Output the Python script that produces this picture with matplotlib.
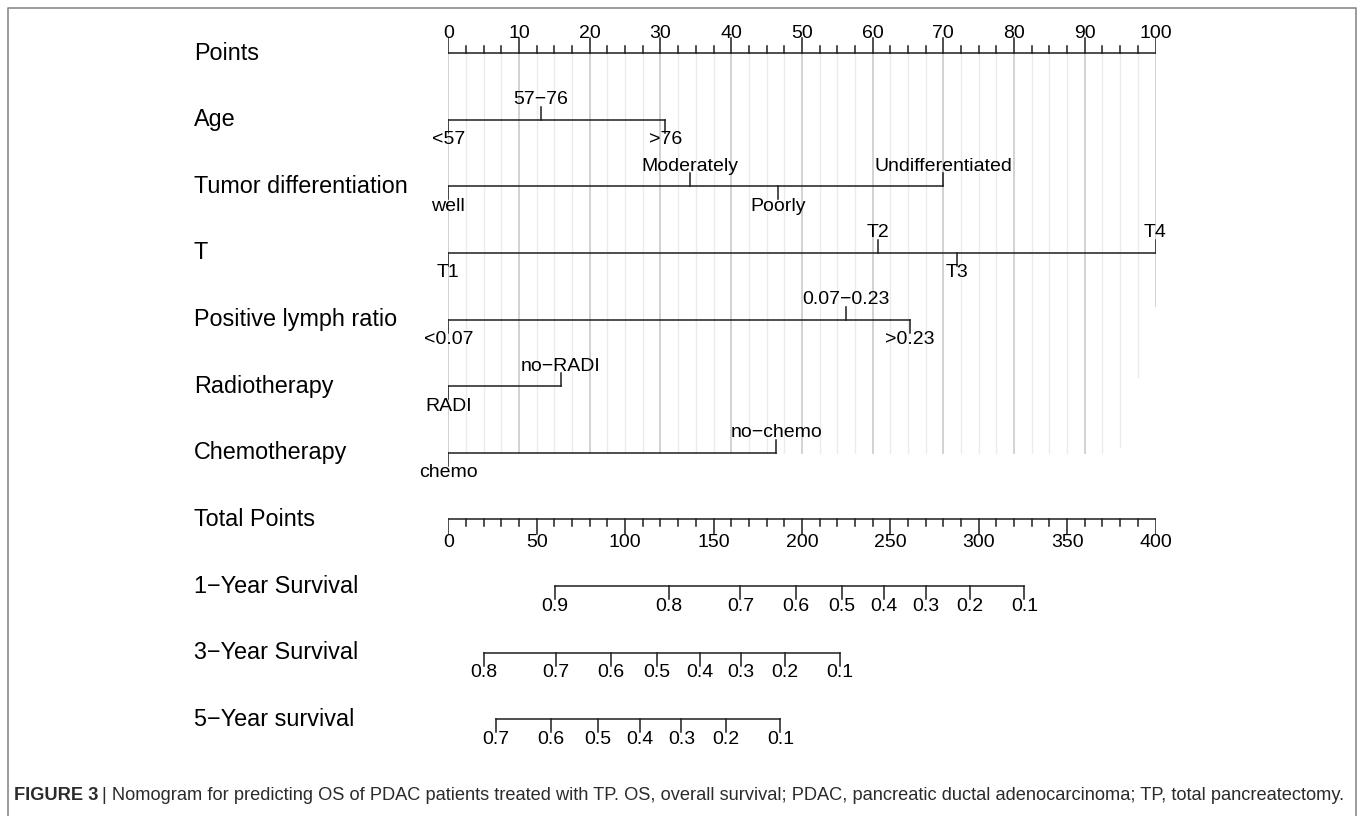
"""Nomogram for predicting OS of PDAC patients treated with TP."""

import matplotlib

matplotlib.use("Agg")
import matplotlib.pyplot as plt
import numpy as np
from matplotlib.lines import Line2D

plt.rcParams["font.family"] = ["Liberation Sans", "DejaVu Sans"]

ROW_LABELS = [
    "Points",
    "Age",
    "Tumor differentiation",
    "T",
    "Positive lymph ratio",
    "Radiotherapy",
    "Chemotherapy",
    "Total Points",
    "1\u2212Year Survival",
    "3\u2212Year Survival",
    "5\u2212Year survival",
]

# predictor levels and their points (0-100 scale)
AGE_LEVELS = ["<57", "57\u221276", ">76"]
AGE_POINTS = [0, 13.1, 30.7]
DIFF_LEVELS = ["well", "Moderately", "Poorly", "Undifferentiated"]
DIFF_POINTS = [0, 34.2, 46.6, 70.0]
T_LEVELS = ["T1", "T2", "T3", "T4"]
T_POINTS = [0, 60.8, 71.9, 100]
PLR_LEVELS = ["<0.07", "0.07\u22120.23", ">0.23"]
PLR_POINTS = [0, 56.2, 65.3]
RADIO_LEVELS = ["RADI", "no\u2212RADI"]
RADIO_POINTS = [0, 15.9]
CHEMO_LEVELS = ["chemo", "no\u2212chemo"]
CHEMO_POINTS = [0, 46.4]

# survival probabilities against total points (0-400 scale)
SURV_1Y_LABELS = ["0.9", "0.8", "0.7", "0.6", "0.5", "0.4", "0.3", "0.2", "0.1"]
SURV_1Y_TOTAL = [60.3, 124.9, 165.2, 196.4, 222.8, 246.5, 270.3, 295.0, 325.8]
SURV_3Y_LABELS = ["0.8", "0.7", "0.6", "0.5", "0.4", "0.3", "0.2", "0.1"]
SURV_3Y_TOTAL = [20.3, 60.8, 91.9, 118.1, 142.2, 165.5, 190.6, 221.7]
SURV_5Y_LABELS = ["0.7", "0.6", "0.5", "0.4", "0.3", "0.2", "0.1"]
SURV_5Y_TOTAL = [27.1, 58.0, 84.4, 108.3, 131.9, 156.9, 187.8]

TOTAL_MAX = 400
POINTS_MAX = 100

LINE_C = "#1e1e1e"
LW = 1.1
LABEL_FS = 16.8
TICK_FS = 14.0
TICK_LEN = 0.195
LABEL_OFF = 0.30

W, H = 1358, 816
fig = plt.figure(figsize=(W / 100, H / 100), dpi=100)
x0_px, x1_px = 448.3, 1155.5
ax = fig.add_axes([x0_px / W, 0, (x1_px - x0_px) / W, 1])
ax.set_xlim(0, POINTS_MAX)
row_px = 66.63
ax.set_ylim((H - 53) / row_px, -53 / row_px)
ax.axis("off")

# grid lines hanging below the points scale
grid_end = {95.0: 5.91, 97.5: 4.86, 100.0: 3.79}
for v in np.arange(0, POINTS_MAX + 0.1, 2.5):
    major = abs(v % 10) < 1e-9
    ax.plot([v, v], [0, grid_end.get(float(v), 6)],
            color="#cfcfcf" if major else "#ebebeb",
            lw=1.3 if major else 1.0, zorder=0)

# row titles
for i, name in enumerate(ROW_LABELS):
    ax.text(-35.96, i, name, fontsize=LABEL_FS, ha="left", va="center", clip_on=False)

# points scale
ax.plot([0, POINTS_MAX], [0, 0], color=LINE_C, lw=LW)
for v in np.arange(0, POINTS_MAX + 0.1, 2.5):
    major = abs(v % 10) < 1e-9
    ax.plot([v, v], [0, -0.225 if major else -0.105], color=LINE_C, lw=LW)
    if major:
        ax.text(v, -LABEL_OFF, f"{v:g}", fontsize=TICK_FS, ha="center", va="center")

# predictor rows
predictors = [
    (AGE_LEVELS, AGE_POINTS),
    (DIFF_LEVELS, DIFF_POINTS),
    (T_LEVELS, T_POINTS),
    (PLR_LEVELS, PLR_POINTS),
    (RADIO_LEVELS, RADIO_POINTS),
    (CHEMO_LEVELS, CHEMO_POINTS),
]
for row, (levels, pts) in enumerate(predictors, start=1):
    ax.plot([min(pts), max(pts)], [row, row], color=LINE_C, lw=LW)
    order = np.argsort(pts)
    for k, idx in enumerate(order):
        sign = 1 if k % 2 == 0 else -1
        ax.plot([pts[idx], pts[idx]], [row, row + sign * TICK_LEN], color=LINE_C, lw=LW)
        ax.text(pts[idx], row + sign * LABEL_OFF, levels[idx], fontsize=TICK_FS,
                ha="center", va="center")

# total points scale
scale = POINTS_MAX / TOTAL_MAX
row = 7
ax.plot([0, POINTS_MAX], [row, row], color=LINE_C, lw=LW)
for v in range(0, TOTAL_MAX + 1, 10):
    major = v % 50 == 0
    ax.plot([v * scale] * 2, [row, row + (0.225 if major else 0.105)], color=LINE_C, lw=LW)
    if major:
        ax.text(v * scale, row + 0.345, str(v), fontsize=TICK_FS, ha="center", va="center")

# survival rows
survival = [
    (SURV_1Y_LABELS, SURV_1Y_TOTAL),
    (SURV_3Y_LABELS, SURV_3Y_TOTAL),
    (SURV_5Y_LABELS, SURV_5Y_TOTAL),
]
for row, (labels, totals) in enumerate(survival, start=8):
    xs = [t * scale for t in totals]
    ax.plot([xs[0], xs[-1]], [row, row], color=LINE_C, lw=LW)
    for x, lab in zip(xs, labels):
        ax.plot([x, x], [row, row + TICK_LEN], color=LINE_C, lw=LW)
        ax.text(x, row + LABEL_OFF, lab, fontsize=TICK_FS, ha="center", va="center")

# frame and caption
fig.add_artist(Line2D([7.5 / W, 7.5 / W, 1355.5 / W, 1355.5 / W],
                      [0, 1 - 8 / H, 1 - 8 / H, 0],
                      transform=fig.transFigure, color="#8a8a8a", lw=1.2))
cap_y = 1 - 795 / H
head = fig.text(14 / W, cap_y, "FIGURE 3", fontsize=13.15, weight="bold",
                color="#2b2b2b", va="center")
renderer = fig.canvas.get_renderer()
bb = head.get_window_extent(renderer=renderer)
fig.text((bb.x1 + 4) / W, cap_y,
         "| Nomogram for predicting OS of PDAC patients treated with TP. OS, overall "
         "survival; PDAC, pancreatic ductal adenocarcinoma; TP, total pancreatectomy.",
         fontsize=13.15, color="#2b2b2b", va="center")

fig.savefig("out.png", dpi=100)
plt.close(fig)
